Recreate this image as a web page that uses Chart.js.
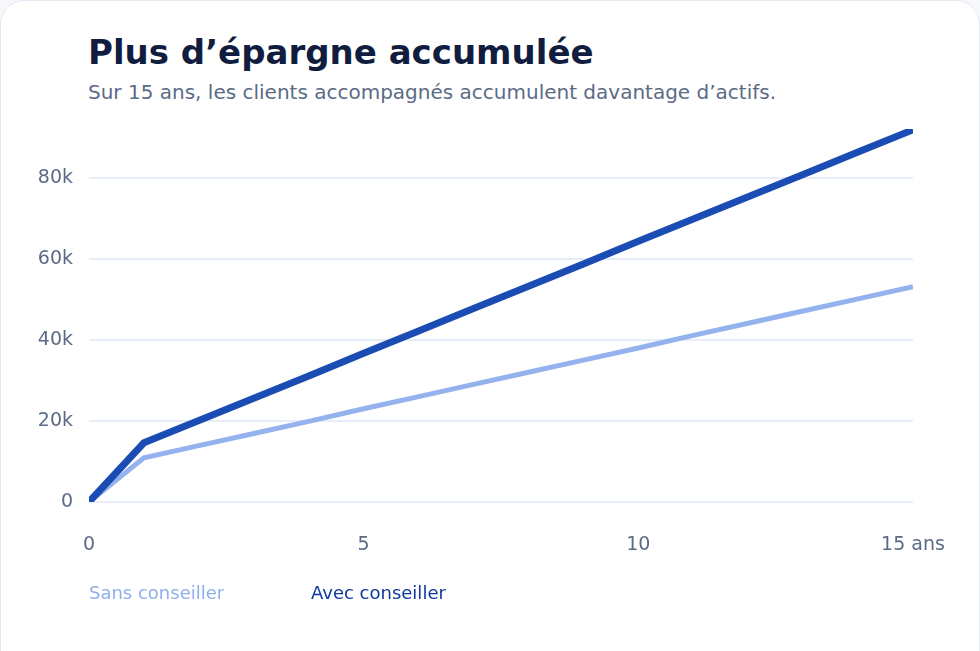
<!DOCTYPE html>
<html>
<head>
<meta charset="utf-8">
<script src="https://cdn.jsdelivr.net/npm/chart.js@4.4.1/dist/chart.umd.min.js"></script>
<style>
  html, body { margin: 0; padding: 0; background: #f6f8fc; overflow: hidden; }
  .card {
    position: absolute; left: 0; top: 0; width: 978px; height: 700px;
    background: #fff; border: 1px solid #e2e8f2; border-radius: 24px;
    font-family: "DejaVu Sans", sans-serif;
  }
  h1 {
    position: absolute; left: 87px; top: 34px; margin: 0;
    font-size: 34px; line-height: 1; font-weight: bold; color: #101d3f;
  }
  .sub {
    position: absolute; left: 87px; top: 81px; margin: 0;
    font-size: 20px; line-height: 1; color: #5b6b86;
  }
  canvas { position: absolute; left: 0; top: 0; }
  .legend { position: absolute; top: 583px; font-size: 18px; line-height: 1; }
</style>
</head>
<body>
<div class="card">
  <h1>Plus d’épargne accumulée</h1>
  <p class="sub">Sur 15 ans, les clients accompagnés accumulent davantage d’actifs.</p>
  <canvas id="savingsChart" width="980" height="651"></canvas>
  <div id="legend"></div>
</div>
<script>
var years = [0, 1, 2, 3, 4, 5, 6, 7, 8, 9, 10, 11, 12, 13, 14, 15];
var sansConseiller = [0, 10900, 13900, 16900, 19900, 23000, 26000, 29000, 32000, 35000, 38000, 41100, 44100, 47100, 50100, 53100];
var avecConseiller = [0, 14600, 20100, 25600, 31100, 36700, 42200, 47700, 53200, 58700, 64300, 69800, 75300, 80800, 86300, 91800];
var xTicks = [0, 5, 10, 15];
var yTicks = [0, 20000, 40000, 60000, 80000];

function points(values) {
    return years.map(function (y, i) { return { x: y, y: values[i] }; });
}

var seriesNames = ["Sans conseiller", "Avec conseiller"];
var lineColors = ["#94b3ee", "#1a4cb4"];
var legendColors = ["#8eaeec", "#0c3a9c"];
var legendX = [88, 310];

var ctx = document.getElementById('savingsChart').getContext('2d');
var myChart = new Chart(ctx, {
    type: 'line',
    data: {
        datasets: [
            {
                label: seriesNames[0],
                data: points(sansConseiller),
                borderColor: lineColors[0],
                borderWidth: 5,
                pointRadius: 0,
                tension: 0,
                order: 1,
            },
            {
                label: seriesNames[1],
                data: points(avecConseiller),
                borderColor: lineColors[1],
                borderWidth: 7,
                pointRadius: 0,
                tension: 0,
                order: 0,
            },
        ],
    },
    options: {
        responsive: false,
        animation: false,
        layout: {
            padding: { top: 128, right: 68, left: 0, bottom: 0 },
        },
        scales: {
            x: {
                type: 'linear',
                min: 0,
                max: 15,
                afterBuildTicks: function (scale) {
                    scale.ticks = xTicks.map(function (v) { return { value: v }; });
                },
                afterFit: function (scale) { scale.height = 150; },
                border: { display: false },
                grid: { display: false },
                ticks: {
                    color: "#5b6b86",
                    font: { family: "DejaVu Sans", size: 19 },
                    padding: 24,
                    maxRotation: 0,
                    callback: function (v) { return v === 15 ? "15 ans" : String(v); },
                },
            },
            y: {
                min: 0,
                max: 92000,
                afterBuildTicks: function (scale) {
                    scale.ticks = yTicks.map(function (v) { return { value: v }; });
                },
                afterFit: function (scale) { scale.width = 88; },
                border: { display: false },
                grid: { color: "#e6edf8", lineWidth: 2, drawTicks: false },
                ticks: {
                    color: "#5b6b86",
                    font: { family: "DejaVu Sans", size: 19 },
                    padding: 16,
                    callback: function (v) { return v === 0 ? "0" : (v / 1000) + "k"; },
                },
            },
        },
        plugins: {
            legend: { display: false },
            tooltip: { enabled: false },
        },
    },
});

var legend = document.getElementById('legend');
seriesNames.forEach(function (name, i) {
    var span = document.createElement('span');
    span.className = 'legend';
    span.style.left = legendX[i] + 'px';
    span.style.color = legendColors[i];
    span.textContent = name;
    legend.appendChild(span);
});
</script>
</body>
</html>
